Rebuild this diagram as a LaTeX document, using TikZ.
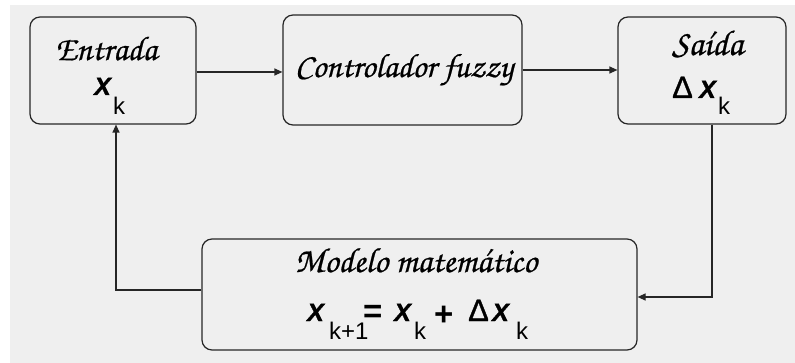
\documentclass[tikz,border=0pt]{standalone}
\usepackage{fontspec}
\setmainfont{Liberation Sans}[BoldItalicFeatures={FakeBold=1.5}]
\newfontfamily\chorus{TeX Gyre Chorus}[FakeBold=0.6]
\newfontfamily\dfont{Liberation Sans}[FakeBold=1]
\usetikzlibrary{arrows.meta}
\definecolor{bg}{HTML}{EFEFEF}
\definecolor{ln}{HTML}{262626}
\tikzset{
 box/.style={draw=ln, line width=1.2pt, rounded corners=10pt, inner sep=0pt},
 arr/.style={draw=ln, line width=1.2pt, -{Triangle[length=8pt,width=7pt]}},
 lbl/.style={inner sep=0pt, anchor=base},
 vx/.style={inner sep=0pt, anchor=base west, font=\fontsize{25}{25}\selectfont\bfseries\itshape},
 sb/.style={inner sep=0pt, anchor=base west, font=\fontsize{24}{24}\selectfont},
 op/.style={inner sep=0pt, anchor=base west, font=\fontsize{33}{33}\selectfont\bfseries},
 dl/.style={inner sep=0pt, anchor=base west, font=\fontsize{31}{31}\selectfont\dfont},
}
\begin{document}
\begin{tikzpicture}[x=1pt,y=-1pt]
\useasboundingbox (0,0) rectangle (795,363);
\fill[white] (0,0) rectangle (795,363);
\fill[bg] (10,5) rectangle (795,363);
% boxes
\node[box, minimum width=166pt, minimum height=107pt] (ent) at (113,70.5) {};
\node[box, minimum width=239pt, minimum height=110pt] (ctl) at (402.5,70) {};
\node[box, minimum width=168pt, minimum height=107pt] (sai) at (702,70.5) {};
\node[box, minimum width=435pt, minimum height=111pt] (mod) at (419.5,294.5) {};
% Entrada
\node[lbl] (entT) at (106,60) {\resizebox{102pt}{!}{\chorus Entrada}};
\node[vx] (entX) at (94,95) {X};
\node[sb] (entk) at (113,115) {k};
% Controlador
\node[lbl] (ctlT) at (404,77) {\resizebox{218pt}{!}{\chorus Controlador fuzzy}};
% Saida
\node[lbl] (saiT) at (707.5,55) {\resizebox{71pt}{!}{\chorus Saída}};
\node[dl] (saiD) at (672,98) {Δ};
\node[vx] (saiX) at (699,98) {X};
\node[sb] (saik) at (718,115) {k};
% Modelo
\node[lbl] (modT) at (416,272) {\resizebox{242pt}{!}{\chorus Modelo matemático}};
\node[vx] (eqXa) at (307,321) {X};
\node[sb] (eqka) at (329,339) {k+1};
\node[op] (eqeq) at (363,323) {=};
\node[vx] (eqXb) at (394,321) {X};
\node[sb] (eqkb) at (414,339) {k};
\node[op] (eqpl) at (434,326) {+};
\node[dl] (eqD) at (468,321) {Δ};
\node[vx] (eqXc) at (492,321) {X};
\node[sb] (eqkc) at (516,339) {k};
% connectors
\draw[arr] ([yshift=-1.5pt]ent.east) -- ([yshift=-1.5pt]ctl.west |- ent.east);
\draw[arr] (ctl.east) -- (sai.west |- ctl.east);
\draw[arr] ([xshift=10pt]sai.south) |- ([yshift=-2.5pt]mod.east);
\draw[arr] ([yshift=4.5pt]mod.west) -| ([xshift=3pt]ent.south);
\end{tikzpicture}
\end{document}
